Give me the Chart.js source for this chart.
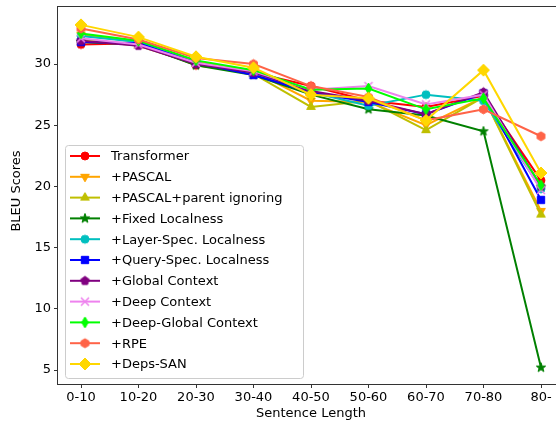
<!DOCTYPE html>
<html>
<head>
<meta charset="utf-8">
<script src="https://cdn.jsdelivr.net/npm/chart.js@4"></script>
<style>
  html, body { margin: 0; padding: 0; overflow: hidden; background: #fff; }
  #wrap { width: 580px; height: 428px; }
</style>
</head>
<body>
<div id="wrap"><canvas id="bleuChart" width="580" height="428"></canvas></div>
<script>
const lengths = ["0-10", "10-20", "20-30", "30-40", "40-50", "50-60", "60-70", "70-80", "80-"];
const yTicks = [5, 10, 15, 20, 25, 30];

const transformer  = [31.6, 31.7, 29.9, 29.3, 28.2, 27.0, 26.5, 27.4, 20.5];
const pascal       = [32.4, 31.8, 30.2, 29.4, 27.0, 26.9, 25.0, 27.3, 18.0];
const pascalParent = [32.0, 31.5, 30.0, 29.2, 26.5, 27.0, 24.6, 27.3, 17.7];
const fixedLocal   = [31.8, 31.6, 29.9, 29.1, 27.5, 26.3, 25.8, 24.5, 5.2];
const layerSpec    = [32.3, 31.8, 30.1, 29.3, 27.7, 26.6, 27.5, 27.0, 19.8];
const querySpec    = [31.8, 31.7, 30.1, 29.1, 27.7, 26.9, 25.9, 27.6, 18.9];
const globalCtx    = [31.9, 31.5, 30.0, 29.3, 27.8, 27.0, 25.9, 27.7, 20.0];
const deepCtx      = [32.1, 31.6, 30.1, 29.4, 27.9, 28.2, 26.7, 27.5, 19.7];
const deepGlobal   = [32.5, 31.9, 30.3, 29.5, 27.9, 28.0, 26.3, 27.2, 20.1];
const rpe          = [32.9, 32.0, 30.5, 30.0, 28.2, 27.3, 25.4, 26.3, 24.1];
const depsSan      = [33.2, 32.2, 30.6, 29.7, 27.5, 27.2, 25.4, 29.5, 21.1];

// marker images, drawn like matplotlib markers
function poly(g, m, n, r, rot) {
  for (let k = 0; k < n; k++) {
    const a = rot + k * 2 * Math.PI / n;
    const x = m + r * Math.cos(a), y = m + r * Math.sin(a);
    if (k === 0) g.moveTo(x, y); else g.lineTo(x, y);
  }
  g.closePath();
}

function marker(shape, color, size) {
  const c = document.createElement("canvas");
  const s = Math.ceil(size + 4);
  c.width = s; c.height = s;
  const g = c.getContext("2d");
  const m = s / 2, r = size / 2;
  g.fillStyle = color; g.strokeStyle = color; g.lineWidth = 1;
  g.beginPath();
  if (shape === "o") g.arc(m, m, r, 0, Math.PI * 2);
  else if (shape === "v") poly(g, m, 3, r, Math.PI / 2);
  else if (shape === "^") poly(g, m, 3, r, -Math.PI / 2);
  else if (shape === "s") poly(g, m, 4, r * 1.3, Math.PI / 4);
  else if (shape === "p") poly(g, m, 5, r, -Math.PI / 2);
  else if (shape === "h") poly(g, m, 6, r, -Math.PI / 2);
  else if (shape === "D") poly(g, m, 4, r, -Math.PI / 2);
  else if (shape === "d") {
    g.moveTo(m, m - r); g.lineTo(m + r * 0.6, m); g.lineTo(m, m + r); g.lineTo(m - r * 0.6, m); g.closePath();
  } else if (shape === "*") {
    for (let k = 0; k < 10; k++) {
      const a = -Math.PI / 2 + k * Math.PI / 5;
      const rr = k % 2 ? r * 0.4 : r;
      const x = m + rr * Math.cos(a), y = m + rr * Math.sin(a);
      if (k === 0) g.moveTo(x, y); else g.lineTo(x, y);
    }
    g.closePath();
  } else if (shape === "x") {
    g.lineWidth = 1.6;
    g.moveTo(m - r, m - r); g.lineTo(m + r, m + r);
    g.moveTo(m + r, m - r); g.lineTo(m - r, m + r);
    g.stroke();
    return c;
  }
  g.fill(); g.stroke();
  return c;
}

const series = [
  { label: "Transformer", data: transformer, color: "#ff0000", shape: "o", size: 8 },
  { label: "+PASCAL", data: pascal, color: "#ffa500", shape: "v", size: 10 },
  { label: "+PASCAL+parent ignoring", data: pascalParent, color: "#bfbf00", shape: "^", size: 10 },
  { label: "+Fixed Localness", data: fixedLocal, color: "#008000", shape: "*", size: 10 },
  { label: "+Layer-Spec. Localness", data: layerSpec, color: "#00bfbf", shape: "o", size: 8 },
  { label: "+Query-Spec. Localness", data: querySpec, color: "#0000ff", shape: "s", size: 8 },
  { label: "+Global Context", data: globalCtx, color: "#800080", shape: "p", size: 9 },
  { label: "+Deep Context", data: deepCtx, color: "#ee82ee", shape: "x", size: 8 },
  { label: "+Deep-Global Context", data: deepGlobal, color: "#00ff00", shape: "d", size: 11 },
  { label: "+RPE", data: rpe, color: "#ff6347", shape: "h", size: 9 },
  { label: "+Deps-SAN", data: depsSan, color: "#ffd700", shape: "D", size: 12 },
];
series.forEach(s => s.img = marker(s.shape, s.color, s.size));

const datasets = series.map((s, i) => ({
  label: s.label,
  data: s.data.map((v, j) => ({ x: j, y: v })),
  borderColor: s.color,
  backgroundColor: s.color,
  borderWidth: 2,
  pointStyle: s.img,
  pointRadius: 5,
  pointHoverRadius: 5,
  order: -i,
}));

const FONT = "'DejaVu Sans', sans-serif";

const framePlugin = {
  id: "frame",
  afterDraw(chart) {
    const { ctx, chartArea: a } = chart;
    ctx.save();
    ctx.strokeStyle = "#333"; ctx.lineWidth = 1;
    ctx.strokeRect(a.left - 0.5, a.top - 0.5, a.right - a.left + 1, a.bottom - a.top + 1);

    // axis titles
    ctx.fillStyle = "#000";
    ctx.font = "13px " + FONT;
    ctx.textAlign = "center"; ctx.textBaseline = "middle";
    ctx.fillText("Sentence Length", (a.left + a.right) / 2, 414);
    ctx.translate(17, 191);
    ctx.rotate(-Math.PI / 2);
    ctx.fillText("BLEU Scores", 0, 0);
    ctx.restore();

    // legend
    ctx.save();
    const bx = 65.5, by = 145.5, bw = 238, bh = 233;
    ctx.beginPath();
    ctx.roundRect(bx, by, bw, bh, 3);
    ctx.fillStyle = "rgba(255,255,255,0.8)";
    ctx.fill();
    ctx.strokeStyle = "#ccc"; ctx.lineWidth = 1;
    ctx.stroke();
    ctx.font = "13px " + FONT;
    ctx.textAlign = "left"; ctx.textBaseline = "middle";
    series.forEach((s, i) => {
      const y = 156 + i * 20.8;
      ctx.strokeStyle = s.color; ctx.lineWidth = 2;
      ctx.beginPath(); ctx.moveTo(70, y); ctx.lineTo(100, y); ctx.stroke();
      ctx.drawImage(s.img, 85 - s.img.width / 2, y - s.img.height / 2);
      ctx.fillStyle = "#000";
      ctx.fillText(s.label, 111, y + 1);
    });
    ctx.restore();
  }
};

new Chart(document.getElementById("bleuChart"), {
  type: "line",
  data: { datasets },
  options: {
    responsive: false,
    animation: false,
    layout: { padding: { top: 7, right: 16, left: 0, bottom: 0 } },
    plugins: { legend: { display: false }, tooltip: { enabled: false } },
    scales: {
      x: {
        type: "linear",
        min: -0.4, max: 8.4,
        afterFit: s => { s.height = 44; s.paddingLeft = 0; s.paddingRight = 0; },
        afterBuildTicks: s => { s.ticks = lengths.map((_, j) => ({ value: j })); },
        ticks: {
          callback: v => lengths[v],
          color: "#000", font: { size: 13, family: FONT }, padding: 2,
          maxRotation: 0, autoSkip: false,
        },
        grid: { drawOnChartArea: false, drawTicks: true, tickLength: 4, color: "#333" },
        border: { display: false },
      },
      y: {
        min: 3.86, max: 34.66,
        afterFit: s => { s.width = 58; s.paddingTop = 0; s.paddingBottom = 0; },
        afterBuildTicks: s => { s.ticks = yTicks.map(v => ({ value: v })); },
        ticks: { color: "#000", font: { size: 13, family: FONT }, padding: 3 },
        grid: { drawOnChartArea: false, drawTicks: true, tickLength: 4, color: "#333" },
        border: { display: false },
      }
    }
  },
  plugins: [framePlugin]
});
</script>
</body>
</html>
